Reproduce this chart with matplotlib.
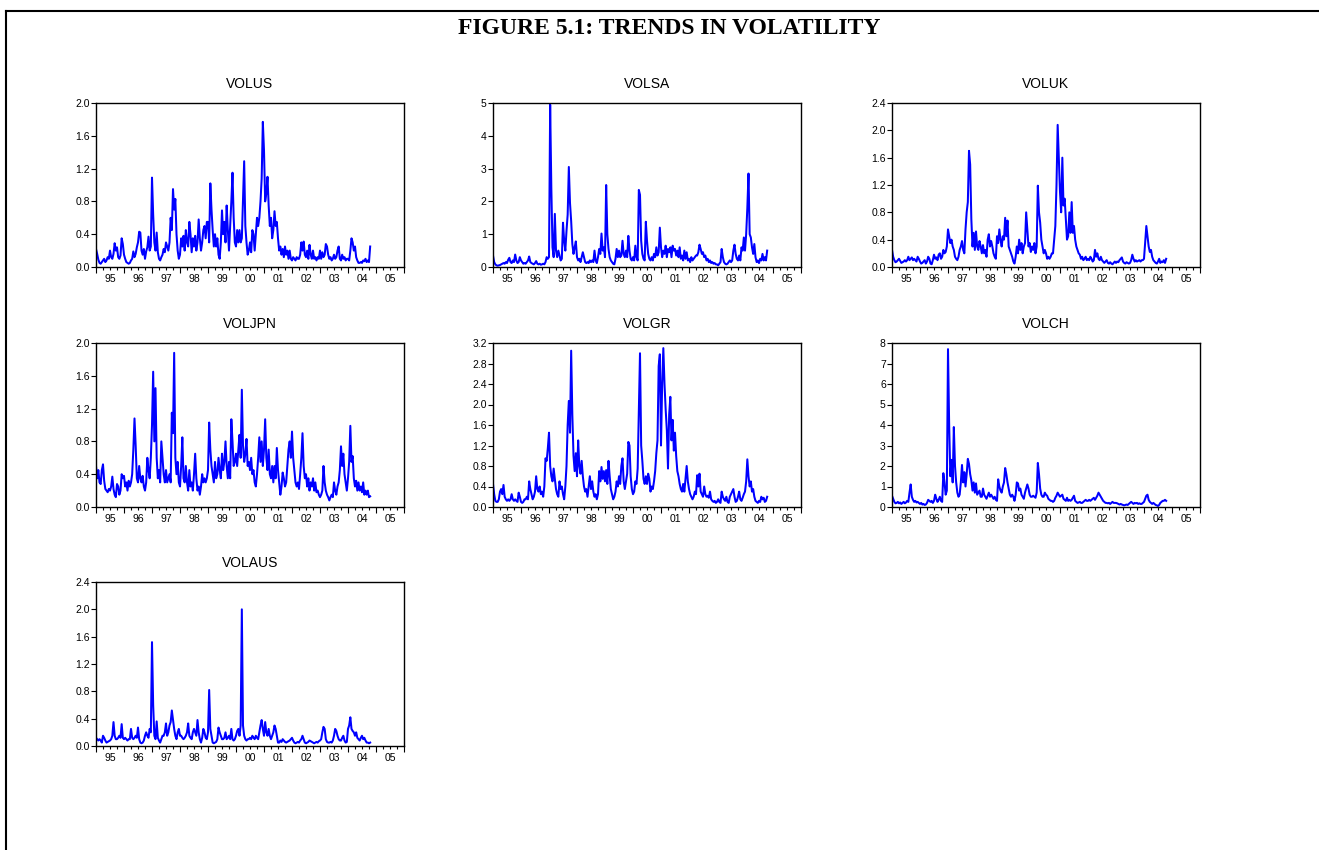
import numpy as np
import matplotlib
matplotlib.use('Agg')
import matplotlib.pyplot as plt
from matplotlib.lines import Line2D
from matplotlib.ticker import FormatStrFormatter
from matplotlib.transforms import blended_transform_factory

plt.rcParams['font.family'] = 'Liberation Sans'

# Data: semi-monthly readings of the weekly volatility series, Jan 1995 - Oct 2004
# (24 values per year, 20 for 2004)
year_labels = ['95', '96', '97', '98', '99', '00', '01', '02', '03', '04', '05']
first_year = 1995

volus = [
    0.22, 0.16, 0.09, 0.05, 0.04, 0.06, 0.08, 0.10, 0.06, 0.08, 0.12, 0.10, 0.20, 0.12, 0.10, 0.16, 0.29, 0.20, 0.24, 0.12, 0.10, 0.14, 0.35, 0.28,  # 95
    0.15, 0.10, 0.06, 0.05, 0.04, 0.05, 0.08, 0.10, 0.19, 0.12, 0.16, 0.24, 0.30, 0.43, 0.42, 0.20, 0.15, 0.22, 0.10, 0.19, 0.24, 0.37, 0.20, 0.25,  # 96
    1.09, 0.64, 0.30, 0.20, 0.42, 0.18, 0.10, 0.08, 0.12, 0.15, 0.22, 0.18, 0.30, 0.25, 0.20, 0.30, 0.60, 0.45, 0.95, 0.70, 0.83, 0.40, 0.20, 0.10,  # 97
    0.15, 0.35, 0.25, 0.38, 0.20, 0.45, 0.30, 0.25, 0.55, 0.40, 0.18, 0.35, 0.25, 0.38, 0.20, 0.30, 0.58, 0.35, 0.20, 0.30, 0.45, 0.50, 0.35, 0.55,  # 98
    0.55, 0.30, 1.02, 0.70, 0.45, 0.25, 0.40, 0.25, 0.35, 0.15, 0.10, 0.30, 0.69, 0.40, 0.55, 0.30, 0.75, 0.45, 0.20, 0.50, 0.80, 1.15, 0.60, 0.30,  # 99
    0.25, 0.45, 0.30, 0.45, 0.30, 0.35, 0.80, 1.29, 0.50, 0.30, 0.15, 0.20, 0.30, 0.18, 0.45, 0.40, 0.20, 0.40, 0.60, 0.50, 0.60, 0.80, 1.08, 1.77,  # 00
    1.42, 0.80, 0.90, 1.10, 0.75, 0.50, 0.60, 0.35, 0.45, 0.68, 0.50, 0.55, 0.35, 0.20, 0.25, 0.15, 0.22, 0.12, 0.25, 0.15, 0.20, 0.10, 0.20, 0.10,  # 01
    0.08, 0.12, 0.10, 0.08, 0.12, 0.10, 0.10, 0.15, 0.30, 0.20, 0.31, 0.15, 0.12, 0.20, 0.10, 0.27, 0.15, 0.10, 0.20, 0.10, 0.12, 0.08, 0.12, 0.10,  # 02
    0.20, 0.10, 0.18, 0.12, 0.15, 0.28, 0.25, 0.15, 0.10, 0.12, 0.08, 0.10, 0.15, 0.10, 0.12, 0.20, 0.25, 0.10, 0.08, 0.15, 0.10, 0.12, 0.08, 0.10,  # 03
    0.10, 0.08, 0.20, 0.35, 0.30, 0.20, 0.25, 0.12, 0.08, 0.05, 0.05, 0.06, 0.05, 0.08, 0.07, 0.10, 0.06, 0.08, 0.06, 0.25,  # 04
]

volsa = [
    0.35, 0.15, 0.08, 0.05, 0.04, 0.05, 0.06, 0.08, 0.10, 0.12, 0.10, 0.15, 0.12, 0.22, 0.28, 0.15, 0.12, 0.20, 0.15, 0.38, 0.20, 0.12, 0.15, 0.30,
    0.20, 0.15, 0.10, 0.12, 0.10, 0.15, 0.20, 0.32, 0.15, 0.12, 0.10, 0.08, 0.12, 0.18, 0.10, 0.08, 0.10, 0.07, 0.08, 0.10, 0.08, 0.15, 0.30, 0.25,
    0.30, 4.95, 2.40, 0.60, 0.30, 1.62, 0.50, 0.30, 0.50, 0.35, 0.20, 0.25, 1.35, 0.80, 0.50, 1.10, 1.60, 3.05, 1.95, 1.40, 0.70, 0.40, 0.60, 0.78,
    0.30, 0.20, 0.25, 0.15, 0.30, 0.45, 0.30, 0.15, 0.12, 0.15, 0.12, 0.20, 0.15, 0.20, 0.15, 0.50, 0.20, 0.12, 0.30, 0.55, 0.40, 1.02, 0.50, 0.60,
    0.30, 2.50, 1.00, 0.55, 0.30, 0.20, 0.15, 0.10, 0.08, 0.25, 0.55, 0.30, 0.50, 0.30, 0.35, 0.80, 0.40, 0.30, 0.50, 0.30, 0.95, 0.50, 0.25, 0.20,
    0.30, 0.20, 0.65, 0.30, 0.20, 2.35, 2.20, 0.80, 0.40, 0.25, 0.20, 1.38, 0.80, 0.40, 0.25, 0.20, 0.30, 0.20, 0.40, 0.30, 0.60, 0.35, 0.45, 1.20,
    0.60, 0.30, 0.50, 0.40, 0.65, 0.30, 0.55, 0.45, 0.60, 0.30, 0.65, 0.50, 0.55, 0.35, 0.50, 0.30, 0.60, 0.25, 0.35, 0.20, 0.50, 0.25, 0.45, 0.20,
    0.25, 0.15, 0.30, 0.20, 0.25, 0.30, 0.35, 0.35, 0.45, 0.68, 0.55, 0.40, 0.45, 0.30, 0.35, 0.20, 0.25, 0.15, 0.20, 0.12, 0.15, 0.10, 0.12, 0.08,
    0.08, 0.05, 0.10, 0.15, 0.55, 0.30, 0.15, 0.10, 0.08, 0.10, 0.15, 0.20, 0.15, 0.20, 0.50, 0.68, 0.40, 0.25, 0.20, 0.35, 0.20, 0.60, 0.50, 0.90,
    0.50, 1.00, 1.80, 2.85, 1.00, 0.90, 0.60, 0.40, 0.70, 0.30, 0.15, 0.20, 0.12, 0.25, 0.20, 0.40, 0.20, 0.30, 0.20, 0.50,
]

voluk = [
    0.25, 0.15, 0.10, 0.07, 0.08, 0.10, 0.12, 0.09, 0.06, 0.07, 0.08, 0.10, 0.08, 0.10, 0.15, 0.10, 0.12, 0.14, 0.10, 0.12, 0.10, 0.08, 0.15, 0.12,
    0.08, 0.05, 0.06, 0.08, 0.10, 0.05, 0.08, 0.15, 0.12, 0.05, 0.04, 0.10, 0.18, 0.12, 0.14, 0.10, 0.18, 0.20, 0.12, 0.15, 0.25, 0.20, 0.22, 0.30,
    0.55, 0.45, 0.35, 0.40, 0.30, 0.25, 0.15, 0.12, 0.10, 0.15, 0.25, 0.30, 0.38, 0.25, 0.20, 0.55, 0.80, 0.95, 1.70, 1.50, 0.70, 0.30, 0.50, 0.25,
    0.52, 0.30, 0.25, 0.38, 0.30, 0.20, 0.32, 0.20, 0.25, 0.15, 0.40, 0.48, 0.30, 0.38, 0.30, 0.20, 0.15, 0.12, 0.45, 0.35, 0.55, 0.40, 0.30, 0.45,
    0.40, 0.72, 0.45, 0.68, 0.30, 0.25, 0.20, 0.15, 0.08, 0.05, 0.15, 0.30, 0.20, 0.40, 0.25, 0.35, 0.20, 0.30, 0.35, 0.80, 0.55, 0.30, 0.35, 0.22,
    0.30, 0.25, 0.35, 0.20, 0.30, 1.19, 0.80, 0.65, 0.40, 0.30, 0.20, 0.25, 0.20, 0.12, 0.15, 0.12, 0.15, 0.20, 0.20, 0.40, 0.60, 1.20, 2.08, 1.60,
    1.10, 0.80, 1.60, 0.90, 1.00, 0.70, 0.40, 0.45, 0.80, 0.50, 0.95, 0.50, 0.60, 0.40, 0.30, 0.25, 0.20, 0.18, 0.12, 0.15, 0.10, 0.12, 0.15, 0.10,
    0.12, 0.10, 0.15, 0.12, 0.08, 0.10, 0.25, 0.15, 0.20, 0.12, 0.10, 0.15, 0.10, 0.08, 0.06, 0.08, 0.10, 0.06, 0.05, 0.07, 0.05, 0.04, 0.06, 0.08,
    0.06, 0.08, 0.07, 0.10, 0.12, 0.14, 0.08, 0.06, 0.05, 0.07, 0.06, 0.05, 0.06, 0.10, 0.18, 0.12, 0.08, 0.10, 0.08, 0.09, 0.10, 0.08, 0.10, 0.10,
    0.12, 0.35, 0.60, 0.45, 0.30, 0.22, 0.25, 0.15, 0.10, 0.08, 0.06, 0.05, 0.08, 0.12, 0.06, 0.08, 0.07, 0.10, 0.06, 0.12,
]

voljpn = [
    0.50, 0.35, 0.45, 0.30, 0.28, 0.45, 0.52, 0.32, 0.22, 0.20, 0.18, 0.22, 0.20, 0.25, 0.37, 0.22, 0.15, 0.12, 0.28, 0.25, 0.15, 0.20, 0.40, 0.35,
    0.38, 0.25, 0.30, 0.20, 0.32, 0.25, 0.30, 0.40, 0.70, 1.08, 0.75, 0.35, 0.30, 0.50, 0.35, 0.30, 0.38, 0.25, 0.20, 0.30, 0.60, 0.45, 0.35, 0.60,
    1.00, 1.65, 0.80, 1.45, 0.60, 0.35, 0.45, 0.30, 0.80, 0.60, 0.40, 0.30, 0.45, 0.30, 0.35, 0.40, 0.30, 1.15, 0.90, 1.88, 0.60, 0.40, 0.55, 0.30,
    0.25, 0.50, 0.85, 0.35, 0.30, 0.50, 0.30, 0.20, 0.45, 0.25, 0.30, 0.20, 0.40, 0.65, 0.35, 0.20, 0.25, 0.15, 0.25, 0.40, 0.30, 0.35, 0.30, 0.35,
    0.45, 1.03, 0.70, 0.50, 0.40, 0.30, 0.55, 0.35, 0.40, 0.60, 0.45, 0.35, 0.65, 0.45, 0.55, 0.80, 0.50, 0.35, 0.55, 0.35, 1.07, 0.80, 0.50, 0.55,
    0.65, 0.50, 0.70, 0.88, 0.60, 1.43, 0.75, 0.55, 0.65, 0.83, 0.50, 0.55, 0.45, 0.60, 0.40, 0.45, 0.30, 0.25, 0.40, 0.60, 0.85, 0.55, 0.80, 0.50,
    0.70, 1.07, 0.60, 0.45, 0.70, 0.40, 0.35, 0.50, 0.30, 0.50, 0.35, 0.72, 0.45, 0.30, 0.15, 0.25, 0.42, 0.35, 0.25, 0.30, 0.50, 0.70, 0.80, 0.60,
    0.92, 0.60, 0.45, 0.30, 0.25, 0.30, 0.22, 0.40, 0.60, 0.90, 0.50, 0.35, 0.40, 0.25, 0.35, 0.20, 0.30, 0.25, 0.35, 0.20, 0.30, 0.18, 0.20, 0.15,
    0.12, 0.15, 0.20, 0.50, 0.30, 0.20, 0.15, 0.12, 0.08, 0.12, 0.15, 0.12, 0.30, 0.20, 0.15, 0.25, 0.30, 0.45, 0.74, 0.50, 0.65, 0.40, 0.30, 0.20,
    0.35, 0.55, 0.99, 0.55, 0.62, 0.35, 0.25, 0.32, 0.20, 0.30, 0.20, 0.25, 0.18, 0.30, 0.15, 0.20, 0.15, 0.20, 0.12, 0.13,
]

volgr = [
    0.45, 0.25, 0.12, 0.10, 0.10, 0.15, 0.30, 0.35, 0.25, 0.43, 0.20, 0.15, 0.12, 0.15, 0.12, 0.15, 0.25, 0.15, 0.12, 0.15, 0.12, 0.10, 0.28, 0.20,
    0.10, 0.08, 0.10, 0.15, 0.15, 0.20, 0.15, 0.50, 0.35, 0.25, 0.15, 0.20, 0.30, 0.60, 0.35, 0.30, 0.40, 0.25, 0.30, 0.20, 0.40, 0.95, 0.90, 1.15,
    1.45, 0.80, 0.60, 0.50, 0.75, 0.55, 0.35, 0.25, 0.20, 0.50, 0.35, 0.40, 0.25, 0.15, 0.40, 0.80, 1.60, 2.07, 1.45, 3.05, 1.80, 1.00, 0.70, 1.05,
    0.60, 1.30, 0.80, 0.65, 0.90, 0.60, 0.40, 0.30, 0.35, 0.20, 0.40, 0.60, 0.35, 0.50, 0.30, 0.20, 0.25, 0.15, 0.25, 0.70, 0.50, 0.78, 0.55, 0.70,
    0.50, 0.72, 0.45, 0.90, 0.60, 0.35, 0.25, 0.15, 0.20, 0.30, 0.50, 0.40, 0.60, 0.45, 0.80, 0.95, 0.50, 0.35, 0.50, 0.65, 1.27, 1.20, 0.60, 0.35,
    0.25, 0.30, 0.50, 0.45, 0.75, 1.90, 3.00, 1.20, 0.90, 0.55, 0.45, 0.60, 0.45, 0.65, 0.55, 0.30, 0.40, 0.35, 0.50, 0.70, 1.05, 1.30, 2.75, 2.98,
    1.20, 2.40, 3.10, 2.40, 1.90, 1.50, 0.75, 1.80, 2.15, 1.30, 1.70, 1.10, 1.45, 1.00, 0.70, 0.60, 0.45, 0.35, 0.30, 0.45, 0.30, 0.55, 0.80, 0.50,
    0.35, 0.25, 0.20, 0.15, 0.20, 0.30, 0.25, 0.62, 0.40, 0.65, 0.30, 0.25, 0.20, 0.40, 0.25, 0.20, 0.22, 0.18, 0.30, 0.15, 0.12, 0.10, 0.12, 0.08,
    0.10, 0.15, 0.10, 0.08, 0.30, 0.20, 0.15, 0.12, 0.20, 0.10, 0.08, 0.20, 0.25, 0.30, 0.35, 0.20, 0.10, 0.12, 0.20, 0.30, 0.15, 0.12, 0.18, 0.25,
    0.30, 0.50, 0.93, 0.60, 0.40, 0.50, 0.30, 0.35, 0.20, 0.12, 0.10, 0.08, 0.12, 0.10, 0.20, 0.15, 0.18, 0.10, 0.12, 0.20,
]

volch = [
    0.55, 0.40, 0.25, 0.18, 0.20, 0.25, 0.18, 0.22, 0.15, 0.20, 0.25, 0.18, 0.22, 0.30, 0.25, 0.70, 1.10, 0.50, 0.35, 0.25, 0.30, 0.22, 0.25, 0.20,
    0.15, 0.20, 0.12, 0.15, 0.10, 0.12, 0.20, 0.35, 0.30, 0.25, 0.30, 0.20, 0.30, 0.60, 0.40, 0.25, 0.35, 0.50, 0.30, 0.25, 1.65, 1.20, 0.60, 0.80,
    7.70, 4.00, 1.50, 2.30, 1.20, 3.90, 2.00, 1.20, 0.70, 0.50, 0.60, 1.20, 2.05, 1.20, 1.70, 1.00, 1.60, 2.35, 2.10, 1.60, 1.30, 0.80, 1.20, 0.70,
    1.15, 0.60, 0.70, 0.80, 0.50, 0.50, 0.90, 0.60, 0.50, 0.40, 0.55, 0.70, 0.50, 0.60, 0.50, 0.40, 0.50, 0.35, 0.30, 1.35, 1.00, 0.80, 0.70, 1.00,
    1.20, 1.90, 1.60, 1.20, 0.90, 0.60, 0.50, 0.60, 0.50, 0.30, 0.60, 1.20, 1.15, 0.80, 0.90, 0.60, 0.50, 0.40, 0.70, 0.90, 1.10, 0.90, 0.60, 0.50,
    0.50, 0.55, 0.50, 0.45, 0.70, 2.15, 1.60, 0.90, 0.60, 0.50, 0.50, 0.70, 0.60, 0.55, 0.40, 0.35, 0.30, 0.30, 0.25, 0.30, 0.45, 0.55, 0.70, 0.60,
    0.50, 0.55, 0.60, 0.40, 0.35, 0.30, 0.45, 0.30, 0.35, 0.30, 0.35, 0.45, 0.55, 0.30, 0.25, 0.20, 0.22, 0.25, 0.20, 0.20, 0.25, 0.30, 0.35, 0.30,
    0.30, 0.35, 0.30, 0.35, 0.40, 0.45, 0.35, 0.45, 0.55, 0.70, 0.60, 0.50, 0.40, 0.30, 0.25, 0.20, 0.20, 0.18, 0.20, 0.15, 0.20, 0.25, 0.20, 0.20,
    0.20, 0.18, 0.15, 0.12, 0.15, 0.12, 0.10, 0.08, 0.10, 0.12, 0.10, 0.15, 0.20, 0.25, 0.20, 0.15, 0.20, 0.18, 0.20, 0.15, 0.18, 0.15, 0.15, 0.20,
    0.25, 0.40, 0.55, 0.60, 0.35, 0.25, 0.20, 0.15, 0.20, 0.15, 0.10, 0.08, 0.05, 0.10, 0.20, 0.25, 0.30, 0.30, 0.35, 0.30,
]

volaus = [
    0.12, 0.10, 0.08, 0.10, 0.08, 0.05, 0.15, 0.12, 0.08, 0.05, 0.06, 0.07, 0.08, 0.10, 0.15, 0.35, 0.15, 0.10, 0.10, 0.12, 0.15, 0.12, 0.32, 0.12,
    0.10, 0.12, 0.10, 0.08, 0.10, 0.10, 0.25, 0.12, 0.10, 0.12, 0.15, 0.12, 0.27, 0.10, 0.05, 0.04, 0.05, 0.08, 0.15, 0.20, 0.15, 0.12, 0.25, 0.20,
    1.52, 0.60, 0.15, 0.10, 0.36, 0.12, 0.08, 0.05, 0.10, 0.15, 0.15, 0.20, 0.33, 0.15, 0.20, 0.30, 0.35, 0.52, 0.38, 0.25, 0.15, 0.10, 0.20, 0.25,
    0.15, 0.15, 0.12, 0.10, 0.12, 0.15, 0.20, 0.33, 0.15, 0.12, 0.10, 0.20, 0.25, 0.20, 0.15, 0.38, 0.20, 0.10, 0.05, 0.12, 0.25, 0.20, 0.12, 0.10,
    0.20, 0.82, 0.25, 0.15, 0.05, 0.04, 0.05, 0.06, 0.10, 0.27, 0.20, 0.15, 0.10, 0.10, 0.12, 0.20, 0.10, 0.12, 0.15, 0.10, 0.25, 0.10, 0.08, 0.10,
    0.15, 0.22, 0.25, 0.15, 0.30, 2.00, 0.30, 0.15, 0.10, 0.08, 0.10, 0.10, 0.12, 0.10, 0.15, 0.12, 0.10, 0.15, 0.12, 0.10, 0.20, 0.30, 0.38, 0.25,
    0.15, 0.35, 0.20, 0.15, 0.25, 0.15, 0.10, 0.15, 0.20, 0.30, 0.25, 0.15, 0.05, 0.05, 0.08, 0.06, 0.10, 0.08, 0.06, 0.05, 0.06, 0.07, 0.08, 0.10,
    0.12, 0.08, 0.05, 0.04, 0.05, 0.06, 0.05, 0.08, 0.10, 0.15, 0.10, 0.05, 0.04, 0.05, 0.06, 0.08, 0.07, 0.06, 0.05, 0.04, 0.05, 0.06, 0.05, 0.07,
    0.08, 0.10, 0.20, 0.28, 0.25, 0.10, 0.06, 0.05, 0.05, 0.06, 0.05, 0.08, 0.15, 0.25, 0.22, 0.15, 0.10, 0.08, 0.08, 0.12, 0.15, 0.08, 0.05, 0.06,
    0.25, 0.30, 0.42, 0.25, 0.22, 0.20, 0.15, 0.20, 0.12, 0.10, 0.08, 0.12, 0.15, 0.10, 0.12, 0.08, 0.05, 0.05, 0.04, 0.05,
]

W, H = 1319, 850
fig = plt.figure(figsize=(W / 100, H / 100), dpi=100)
fig.patch.set_facecolor('white')

# page frame (left and top edges only)
fig.add_artist(Line2D([6 / W, 6 / W], [0, 1 - 11 / H], transform=fig.transFigure, color='black', lw=1.5))
fig.add_artist(Line2D([6 / W, 1], [1 - 11 / H, 1 - 11 / H], transform=fig.transFigure, color='black', lw=1.5))

fig.text(669 / W, 1 - 28 / H, 'FIGURE 5.1: TRENDS IN VOLATILITY', family='Liberation Serif',
         fontweight='bold', fontsize=17, ha='center', va='center')


def panel(left_px, top_px, name, values, ymax, ystep, fmt):
    ax = fig.add_axes([left_px / W, 1 - (top_px + 164) / H, 308 / W, 164 / H])
    t = first_year + np.arange(len(values)) / 24.0
    ax.plot(t, values, color='#0000ff', lw=1.45)

    ax.set_xlim(first_year, first_year + len(year_labels))
    ax.set_ylim(0, ymax)
    ax.set_xticks(np.arange(first_year, first_year + len(year_labels) + 1))
    ax.set_xticklabels([])
    ax.set_xticks(np.arange(first_year, first_year + len(year_labels), 0.25), minor=True)
    ax.set_yticks(np.arange(0, ymax + 1e-9, ystep))
    ax.yaxis.set_major_formatter(FormatStrFormatter(fmt))

    ax.tick_params(axis='x', which='major', direction='out', length=4, width=0.8)
    ax.tick_params(axis='x', which='minor', direction='out', length=2.5, width=0.8)
    ax.tick_params(axis='y', direction='out', length=3.5, width=0.8, labelsize=7.5, pad=1)
    for s in ax.spines.values():
        s.set_linewidth(1.0)

    trans = blended_transform_factory(ax.transData, ax.transAxes)
    for i, lab in enumerate(year_labels):
        ax.text(first_year + i + 0.5, -0.072, lab, transform=trans, ha='center', va='center', fontsize=7.5)

    ax.text(0.5, 1.113, name, transform=ax.transAxes, ha='center', va='center', fontsize=10)
    return ax


panel(96, 103, 'VOLUS', volus, 2.0, 0.4, '%.1f')
panel(493, 103, 'VOLSA', volsa, 5, 1, '%.0f')
panel(892, 103, 'VOLUK', voluk, 2.4, 0.4, '%.1f')
panel(96, 343, 'VOLJPN', voljpn, 2.0, 0.4, '%.1f')
panel(493, 343, 'VOLGR', volgr, 3.2, 0.4, '%.1f')
panel(892, 343, 'VOLCH', volch, 8, 1, '%.0f')
panel(96, 582, 'VOLAUS', volaus, 2.4, 0.4, '%.1f')

fig.savefig('out.png', dpi=100)
